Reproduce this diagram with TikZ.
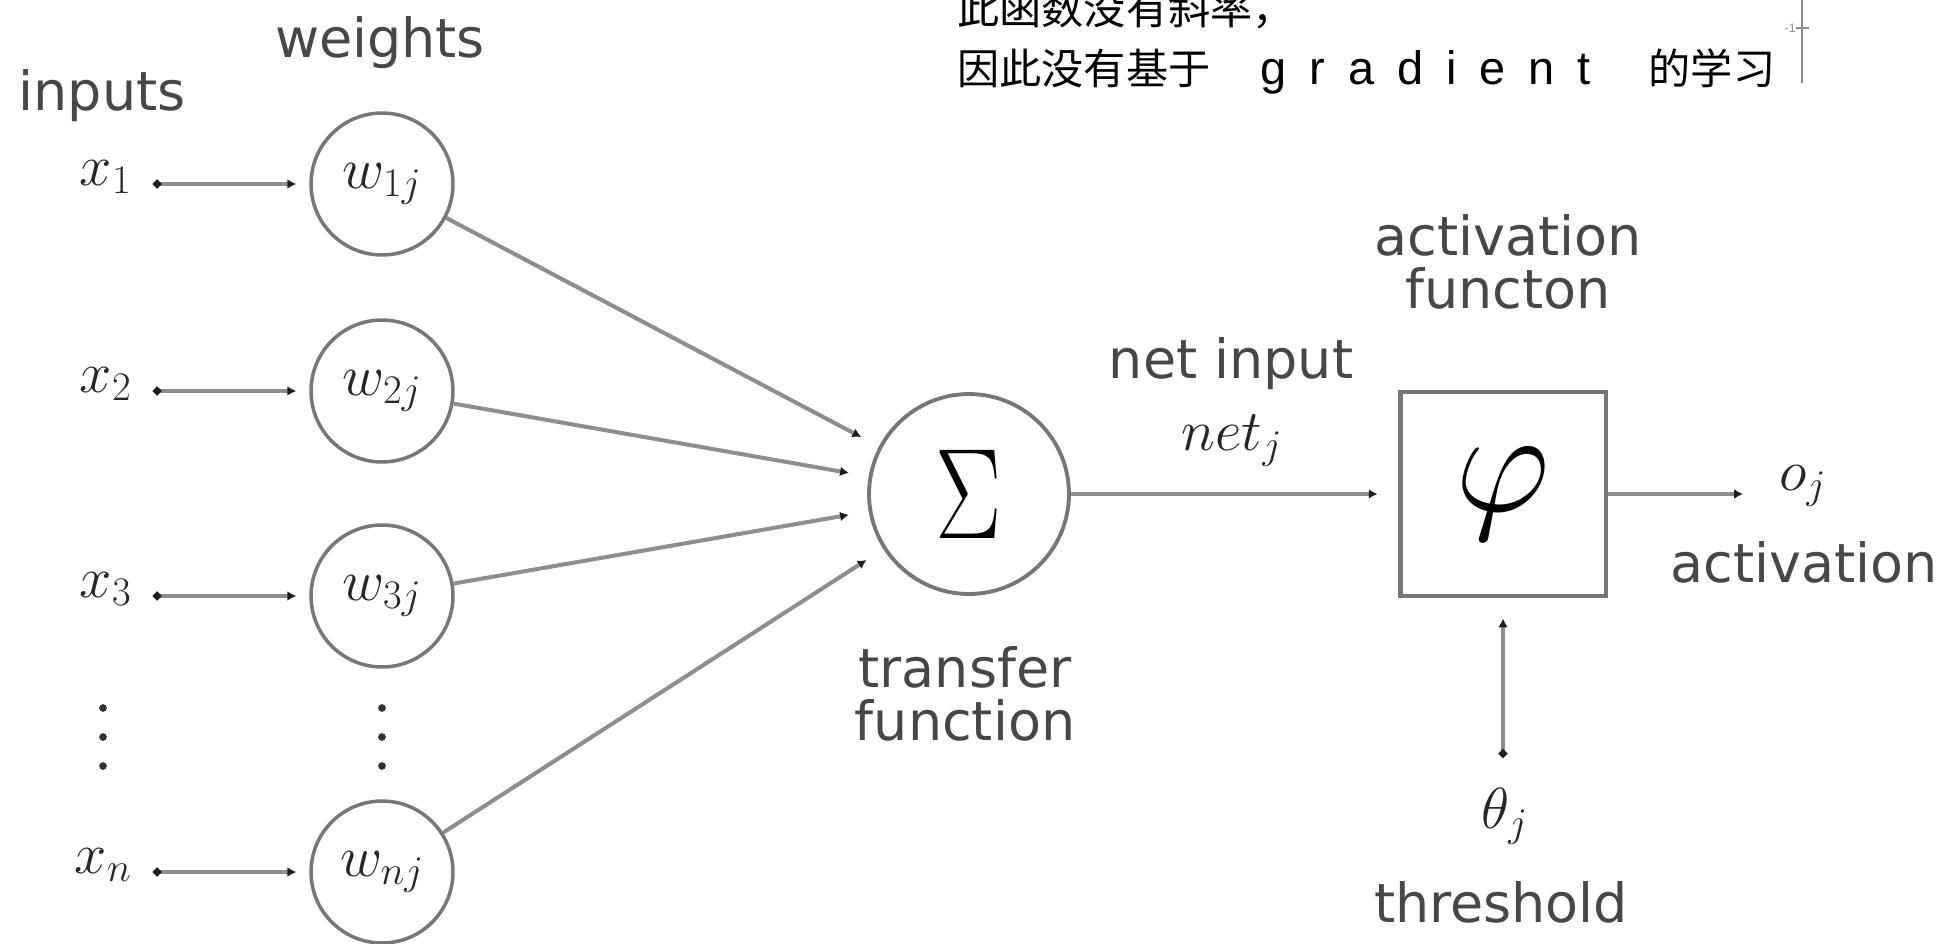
\RequirePackage{fix-cm}
\documentclass[tikz,border=0pt]{standalone}
\usepackage[no-math]{fontspec}
\usepackage{graphicx}
\newfontfamily\labelfont{DejaVu Sans}
\newfontfamily\cjkfont{Noto Sans CJK SC}
\newfontfamily\notefont{Liberation Sans}
\usetikzlibrary{arrows.meta,positioning}

\definecolor{linegray}{HTML}{8E8E8E}
\definecolor{ringgray}{HTML}{777777}
\definecolor{labelgray}{HTML}{474747}
\definecolor{tipblack}{HTML}{1E1E1E}

\newdimen\pxu
\pxu=0.569pt

\tikzset{
  txt/.style={inner sep=0pt, text=labelgray, font=\labelfont\fontsize{30.7}{36}\selectfont},
  sym/.style={inner sep=0pt, text=black!85, font=\fontsize{33}{38}\selectfont},
  weight/.style={sym, circle, draw=ringgray, line width=2pt, minimum size=80.8pt},
  link/.style={draw=linegray, line width=2.3pt, -{Latex[length=5pt,width=5.5pt,color=tipblack]}},
  dotlink/.style={link, {Circle[length=4.5pt,color=tipblack]}-{Latex[length=5pt,width=5.5pt,color=tipblack]}},
  note/.style={inner sep=0pt, anchor=base west, font=\cjkfont\fontsize{24}{28}\selectfont},
}

\begin{document}
\begin{tikzpicture}[x=0.02cm, y=-0.02cm]
  \useasboundingbox (0,0) rectangle (1946,943);

  % sum and activation
  \node[circle, draw=ringgray, line width=2.2pt, minimum size=113.8pt, inner sep=0pt,
        text=black, font=\fontsize{68}{70}\selectfont] (sum) at (969,494) {\scalebox{0.83}[1.08]{$\Sigma$}};
  \node[draw=ringgray, line width=2.8pt, minimum width=117.2pt, minimum height=116.1pt, inner sep=0pt,
        text=black, font=\fontsize{84}{88}\selectfont] (phi) at (1503,494) {$\varphi$};

  % inputs and weights
  \foreach \i/\yy in {1/184, 2/391, 3/596, n/872} {
    \node[sym, anchor=east] (x\i) at (132,\yy-7) {$x_{\i}$};
    \node[weight] (w\i) at (382,\yy) {$w_{\i j}$};
    \draw[dotlink, shorten <=12pt, shorten >=7.4pt] (x\i.east |- w\i) -- (w\i);
    \draw[link, shorten >=11.4pt] (w\i) -- (sum);
  }
  \foreach \xx in {103,382}
    \foreach \yy in {708,737,766}
      \fill[black!80] (\xx,\yy) circle (2.2pt);

  % output side
  \draw[link, shorten >=11.4pt] (sum) -- (phi);
  \node[sym, anchor=base west] (oj) at (1779,490) {$o_j$};
  \draw[link, shorten >=20.5pt] (phi) -- (phi -| oj.west);
  \node[sym, anchor=base] (theta) at (1505,828) {$\theta_j$};
  \draw[dotlink, shorten <=17pt, shorten >=11.4pt] (phi.south |- theta.north) -- (phi.south);

  % labels
  \node[txt, anchor=base] (inputs) at (102,110) {inputs};
  \node[txt, anchor=base] (weights) at (380,57) {weights};
  \node[txt, anchor=base] (transfer) at (965,687) {transfer};
  \node[txt, anchor=base] (function) at (965,740) {function};
  \node[txt, anchor=base] (netin) at (1231,378) {net input};
  \node[sym, anchor=base] (netj) at (1232,450) {$net_j$};
  \node[txt, anchor=base] (actfn) at (1508,255) {activation};
  \node[txt, anchor=base] (functon) at (1508,308) {functon};
  \node[txt, anchor=base] (actout) at (1804,582) {activation};
  \node[txt, anchor=base] (thresh) at (1501,922) {threshold};

  % note at the top
  \node[note] (note1) at (957,25) {此函数没有斜率，};
  \node[note] (note2) at (957,84) {因此没有基于\hspace{50\pxu}{\notefont\fontsize{26.7}{30}\selectfont\spaceskip=23\pxu g r a d i e n t}\hspace{58\pxu}的学习};
  \draw[linegray, line width=1.1pt] (1802,0) -- (1802,83);
  \draw[linegray, line width=0.8pt] (1796,28) -- (1809,28);
  \node[inner sep=0pt, anchor=east, text=linegray, font=\notefont\fontsize{7}{8}\selectfont] (tick) at (1796,28) {-1};
\end{tikzpicture}
\end{document}
